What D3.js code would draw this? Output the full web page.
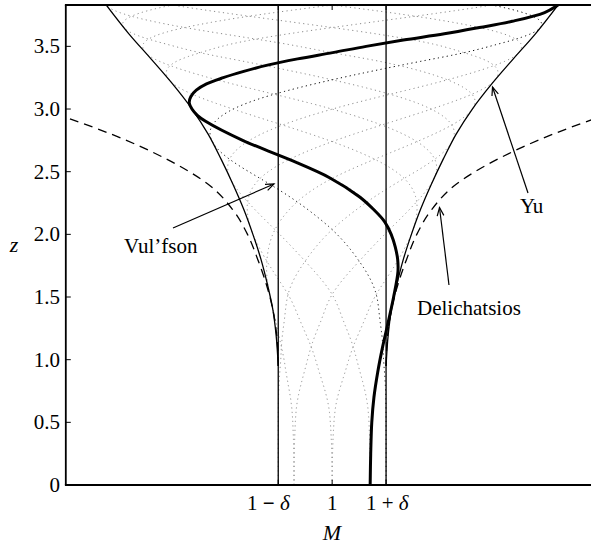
<!DOCTYPE html>
<html>
<head>
<meta charset="utf-8">
<script src="https://cdn.jsdelivr.net/npm/d3@7/dist/d3.min.js"></script>
<style>
  html, body { margin: 0; padding: 0; background: #fff; }
  svg { display: block; }
  text { font-family: "Liberation Serif", "DejaVu Serif", serif; fill: #000; }
</style>
</head>
<body>
<svg id="chart" width="591" height="549"></svg>
<script>
// ---------------- data (M measured as (M-1)/delta) ----------------
const zTickValues = [0, 0.5, 1.0, 1.5, 2.0, 2.5, 3.0, 3.5];
const zTickLabels = ["0", "0.5", "1.0", "1.5", "2.0", "2.5", "3.0", "3.5"];
const mTickValues = [-1, 0, 1];
const mTickLabels = [["1 ", "\u2212", " ", "\u03b4"], ["1"], ["1 ", "+", " ", "\u03b4"]];

// Yu envelope half-width (in units of delta)
const yuZ = [0.95, 1.2, 1.4, 1.6, 1.8, 2.0, 2.2, 2.4, 2.6, 2.8, 3.0, 3.2, 3.4, 3.6, 3.83];
const yuW = [1.0, 1.04, 1.1, 1.2, 1.32, 1.47, 1.64, 1.84, 2.06, 2.3, 2.6, 2.96, 3.36, 3.77, 4.19];

// Delichatsios half-width (in units of delta)
const delZ = [0.95, 1.2, 1.4, 1.6, 1.8, 2.0, 2.2, 2.4, 2.5, 2.6, 2.7, 2.8, 2.9, 3.0];
const delW = [1.0, 1.03, 1.1, 1.22, 1.38, 1.57, 1.85, 2.3, 2.65, 3.07, 3.55, 4.1, 4.72, 5.4];

// oscillation phase of the family of dotted solutions
const phaseZ = [0, 0.4, 0.65, 0.94, 1.1, 1.3, 1.52, 1.8, 2.09, 2.4, 2.64, 3.0, 3.2, 3.37, 3.45, 3.53, 3.7, 3.83];
const phaseV = [0, 0.02, 0.075, 0.27, 0.39, 0.58, 0.785, 1.2, 1.66, 2.25, 2.86, 3.93, 4.6, 5.19, 5.5, 5.78, 6.5, 7.07];
// amplitude of the family (= 1 below the Yu envelope start)
const ampZ = [0].concat(yuZ);
const ampW = [1.0].concat(yuW);
const latticeOffsets = [0, 1, 2, 3, 4, 5, 6, 7]; // multiples of pi/4

// thick solution curve
const solZ = [0, 0.25, 0.5, 0.7, 0.9, 1.1, 1.3, 1.5, 1.7, 1.8, 1.9, 2.0, 2.1, 2.2, 2.3, 2.45, 2.6, 2.75, 2.9, 2.95, 3.0, 3.05, 3.1, 3.15, 3.2, 3.25, 3.3, 3.35, 3.4, 3.45, 3.5, 3.55, 3.6, 3.65, 3.7, 3.77, 3.83];
const solM = [0.705, 0.715, 0.735, 0.775, 0.845, 0.935, 1.04, 1.14, 1.22, 1.215, 1.17, 1.095, 0.975, 0.765, 0.505, -0.04, -0.81, -1.66, -2.34, -2.50, -2.60, -2.65, -2.62, -2.52, -2.33, -2.02, -1.64, -1.20, -0.64, 0.01, 0.63, 1.32, 2.08, 2.73, 3.34, 3.94, 4.19];

// ---------------- layout ----------------
const svg = d3.select("#chart");
const padL = 65.8, padR = 598.5, padT = 5, padB = 485;
const x = d3.scaleLinear().domain([-4.94, 4.94]).range([padL, padR]);
const y = d3.scaleLinear().domain([0, 3.83]).range([padB, padT]);

svg.append("rect").attr("width", 591).attr("height", 549).attr("fill", "#fff");
svg.append("clipPath").attr("id", "clip").append("rect")
  .attr("x", padL).attr("y", padT).attr("width", padR - padL).attr("height", padB - padT);
const g = svg.append("g").attr("clip-path", "url(#clip)");

// monotone cubic interpolation helper
function monotone(xs, ys) {
  const n = xs.length, d = [], m = [];
  for (let i = 0; i < n - 1; i++) d.push((ys[i + 1] - ys[i]) / (xs[i + 1] - xs[i]));
  m[0] = d[0]; m[n - 1] = d[n - 2];
  for (let i = 1; i < n - 1; i++) m[i] = (d[i - 1] * d[i] <= 0) ? 0 : (d[i - 1] + d[i]) / 2;
  for (let i = 0; i < n - 1; i++) {
    if (d[i] === 0) { m[i] = 0; m[i + 1] = 0; continue; }
    const a = m[i] / d[i], b = m[i + 1] / d[i], s = a * a + b * b;
    if (s > 9) { const t = 3 / Math.sqrt(s); m[i] = t * a * d[i]; m[i + 1] = t * b * d[i]; }
  }
  return function (t) {
    let i = d3.bisectRight(xs, t) - 1;
    i = Math.max(0, Math.min(n - 2, i));
    const h = xs[i + 1] - xs[i], u = (t - xs[i]) / h;
    const h00 = 2 * u * u * u - 3 * u * u + 1, h10 = u * u * u - 2 * u * u + u;
    const h01 = -2 * u * u * u + 3 * u * u, h11 = u * u * u - u * u;
    return h00 * ys[i] + h10 * h * m[i] + h01 * ys[i + 1] + h11 * h * m[i + 1];
  };
}
const amp = monotone(ampZ, ampW);
const phase = monotone(phaseZ, phaseV);

const line = d3.line().x(d => x(d[0])).y(d => y(d[1]));
const smooth = d3.line().x(d => x(d[0])).y(d => y(d[1])).curve(d3.curveCatmullRom.alpha(0.5));
const smoothZ = d3.line().x(d => x(d[0])).y(d => y(d[1])).curve(d3.curveMonotoneY);

// dotted lattice
const zs = d3.range(0, 3.8301, 0.004);
latticeOffsets.forEach(k => {
  const pts = zs.map(z => [amp(z) * Math.cos(phase(z) + k * Math.PI / 4), z]);
  g.append("path").attr("d", line(pts)).attr("fill", "none")
    .attr("stroke", k === 0 ? "#000" : "#8a8a8a")
    .attr("stroke-width", 1)
    .attr("stroke-dasharray", "1.2 3.3");
});

// vertical lines 1 +/- delta
[-1, 1].forEach(v => {
  g.append("line").attr("x1", x(v)).attr("x2", x(v)).attr("y1", y(0)).attr("y2", y(3.83))
    .attr("stroke", "#000").attr("stroke-width", 1.3);
});

// Yu envelope
[-1, 1].forEach(s => {
  g.append("path").attr("d", smoothZ(yuZ.map((z, i) => [s * yuW[i], z])))
    .attr("fill", "none").attr("stroke", "#000").attr("stroke-width", 1.3);
});

// Delichatsios (dashed)
[-1, 1].forEach(s => {
  g.append("path").attr("d", smoothZ(delZ.map((z, i) => [s * delW[i], z])))
    .attr("fill", "none").attr("stroke", "#000").attr("stroke-width", 1.3)
    .attr("stroke-dasharray", "9 6");
});

// thick solution
g.append("path").attr("d", smooth(solZ.map((z, i) => [solM[i], z])))
  .attr("fill", "none").attr("stroke", "#000").attr("stroke-width", 3)
  .attr("stroke-linejoin", "round");

// ---------------- axes frame ----------------
const frame = svg.append("g").attr("stroke", "#000").attr("stroke-width", 1.8).attr("fill", "none");
frame.append("line").attr("x1", padL).attr("x2", padL).attr("y1", padT).attr("y2", padB);
frame.append("line").attr("x1", padL - 0.9).attr("x2", 600).attr("y1", padB).attr("y2", padB);
frame.append("line").attr("x1", padL - 0.9).attr("x2", 600).attr("y1", padT).attr("y2", padT);

// y ticks & labels
const tk = svg.append("g").attr("stroke", "#000").attr("stroke-width", 1);
zTickValues.forEach((v, i) => {
  tk.append("line").attr("x1", padL).attr("x2", padL + 5).attr("y1", y(v)).attr("y2", y(v));
  svg.append("text").attr("x", 60).attr("y", y(v) + 7).attr("text-anchor", "end")
    .attr("font-size", 21).text(zTickLabels[i]);
});
// x ticks & labels
const labelStart = [247, null, 366];
mTickValues.forEach((v, i) => {
  tk.append("line").attr("x1", x(v)).attr("x2", x(v)).attr("y1", padB).attr("y2", padB - 5);
  tk.append("line").attr("x1", x(v)).attr("x2", x(v)).attr("y1", padT).attr("y2", padT + 5);
  const t = svg.append("text").attr("y", 510).attr("font-size", 21);
  if (labelStart[i] === null) {
    t.attr("x", x(v)).attr("text-anchor", "middle").text(mTickLabels[i][0]);
  } else {
    t.attr("x", labelStart[i]).attr("text-anchor", "start");
    mTickLabels[i].forEach((s, j) => {
      const sp = t.append("tspan").text(s);
      if (j === 3) sp.attr("font-style", "italic");
      if (j === 1 && s === "\u2212") sp.attr("font-weight", "bold");
    });
  }
});

// axis titles
svg.append("text").attr("x", 332).attr("y", 540).attr("text-anchor", "middle")
  .attr("font-size", 22).attr("font-style", "italic").text("M");
svg.append("text").attr("x", 14).attr("y", 252).attr("text-anchor", "middle")
  .attr("font-size", 22).attr("font-style", "italic").text("z");

// ---------------- annotations ----------------
function arrow(x0, y0, x1, y1) {
  const a = Math.atan2(y1 - y0, x1 - x0), L = 9, w = 0.38;
  const ag = svg.append("g").attr("stroke", "#000").attr("stroke-width", 1.2).attr("fill", "none");
  ag.append("line").attr("x1", x0).attr("y1", y0).attr("x2", x1).attr("y2", y1);
  ag.append("path").attr("d",
    `M${x1 - L * Math.cos(a - w)},${y1 - L * Math.sin(a - w)}L${x1},${y1}L${x1 - L * Math.cos(a + w)},${y1 - L * Math.sin(a + w)}`);
}
arrow(173, 228, 274, 184);
arrow(528, 193, 492.5, 87);
arrow(449, 285, 439.5, 207.5);

svg.append("text").attr("x", 124).attr("y", 253).attr("font-size", 21).text("Vul\u2019fson");
svg.append("text").attr("x", 520).attr("y", 213).attr("font-size", 21).text("Yu");
svg.append("text").attr("x", 417).attr("y", 315).attr("font-size", 21).text("Delichatsios");
</script>
</body>
</html>
